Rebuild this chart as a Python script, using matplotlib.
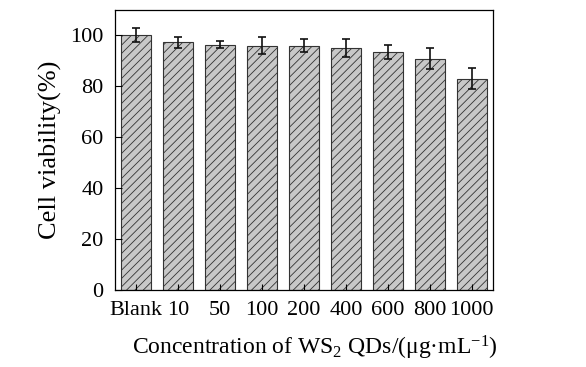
import matplotlib
matplotlib.use('Agg')
import matplotlib.pyplot as plt
import numpy as np

# Cell viability vs WS2 QD concentration
categories = ['Blank', '10', '50', '100', '200', '400', '600', '800', '1000']
viability = [100.1, 97.2, 96.4, 96.0, 96.0, 95.1, 93.5, 90.8, 83.0]
errors = [2.6, 2.1, 1.4, 3.3, 2.6, 3.6, 2.8, 4.2, 4.0]
y_ticks = [0, 20, 40, 60, 80, 100]

plt.rcParams.update({
    'font.family': 'serif',
    'font.serif': ['Liberation Serif', 'DejaVu Serif'],
    'mathtext.fontset': 'custom',
    'mathtext.rm': 'Liberation Serif',
    'mathtext.default': 'regular',
    'hatch.linewidth': 0.6,
    'hatch.color': '#555555',
    'axes.linewidth': 0.9,
})

fig = plt.figure(figsize=(5.86, 3.67), dpi=100)
ax = fig.add_axes([0.196, 0.210, 0.645, 0.763])

x = np.arange(len(categories))
ax.bar(x, viability, width=0.71, color='#c8c8c8', edgecolor='#333333',
       linewidth=0.8, hatch='////')
ax.errorbar(x, viability, yerr=errors, fmt='none', ecolor='#111111',
            elinewidth=1.2, capsize=2.6, capthick=1.2)

ax.set_xlim(-0.5, 8.5)
ax.set_ylim(0, 110)
ax.set_yticks(y_ticks)
ax.set_xticks(x)
ax.set_xticklabels(categories)
ax.tick_params(axis='both', direction='in', labelsize=16, top=False, right=False)
ax.tick_params(axis='y', length=5, width=0.8, pad=8)
ax.tick_params(axis='x', length=4, width=0.8, pad=8)

ax.set_ylabel('Cell viability(%)', fontsize=19)
ax.set_xlabel(r'Concentration of WS$_2$ QDs/(μg·mL$^{-1}$)', fontsize=17)
ax.yaxis.set_label_coords(-0.14, 0.5)
ax.xaxis.set_label_coords(0.53, -0.155)

fig.savefig('out.png', dpi=100, facecolor='white')
